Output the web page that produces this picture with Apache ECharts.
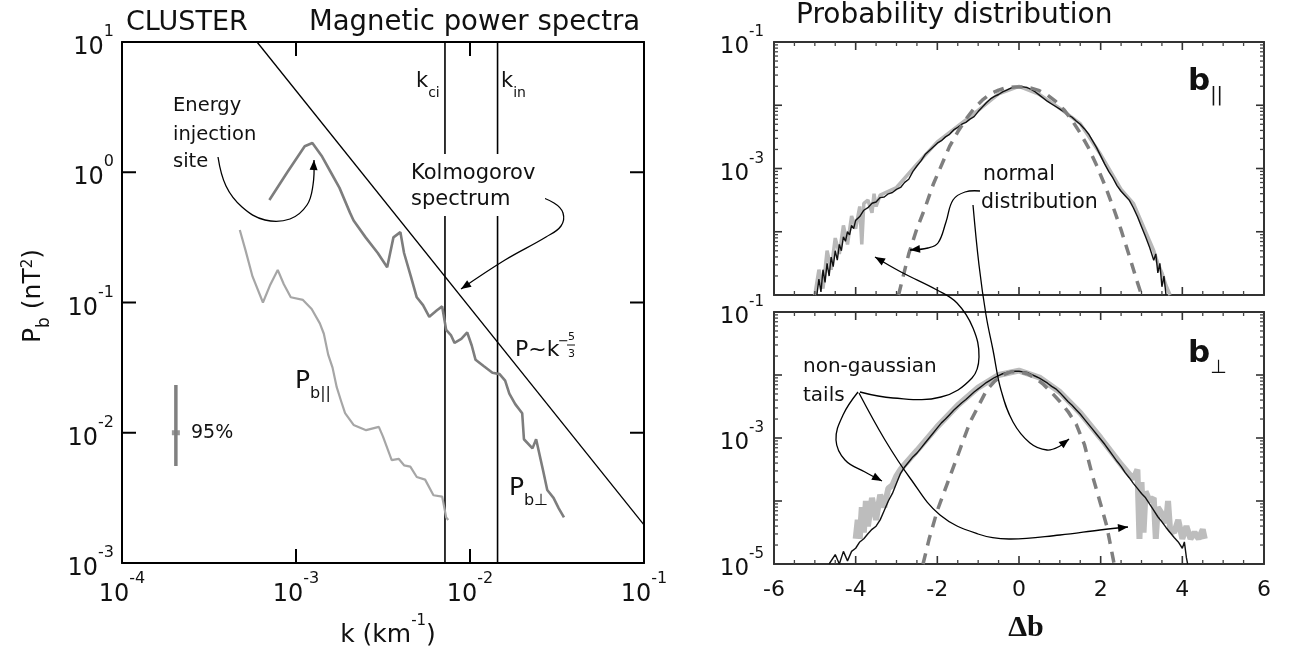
<!DOCTYPE html>
<html><head><meta charset="utf-8">
<script src="https://cdn.jsdelivr.net/npm/echarts/dist/echarts.min.js"></script>
<style>html,body{margin:0;padding:0;background:#fff}#c{width:1291px;height:656px}</style>
</head><body><div id="c"></div>
<script>
// ---------------- DATA ----------------
// Left panel: magnetic power spectra (log10 k, log10 P)
const perpLogK = [-3.153,-3.05,-2.95,-2.906,-2.85,-2.8,-2.75,-2.69,-2.669,-2.6,-2.53,-2.476,-2.44,-2.4,-2.379,-2.34,-2.306,-2.27,-2.234,-2.19,-2.16,-2.137,-2.11,-2.089,-2.05,-2.016,-1.99,-1.968,-1.92,-1.871,-1.83,-1.798,-1.774,-1.74,-1.7,-1.69,-1.641,-1.62,-1.58,-1.556,-1.52,-1.49,-1.46];
const perpLogP = [-0.213,0.0,0.2,0.225,0.12,0.0,-0.12,-0.31,-0.37,-0.5,-0.62,-0.73,-0.5,-0.46,-0.62,-0.8,-0.96,-1.02,-1.11,-1.06,-1.03,-1.21,-1.25,-1.31,-1.28,-1.23,-1.33,-1.44,-1.49,-1.54,-1.55,-1.6,-1.7,-1.78,-1.85,-2.05,-2.12,-2.05,-2.29,-2.44,-2.5,-2.58,-2.65];
const parLogK = [-3.323,-3.29,-3.25,-3.19,-3.15,-3.105,-3.07,-3.03,-2.96,-2.91,-2.863,-2.84,-2.815,-2.79,-2.766,-2.74,-2.718,-2.669,-2.597,-2.524,-2.5,-2.45,-2.41,-2.379,-2.343,-2.306,-2.258,-2.21,-2.16,-2.137,-2.125];
const parLogP = [-0.443,-0.6,-0.8,-1.0,-0.87,-0.75,-0.86,-0.96,-0.98,-1.05,-1.16,-1.24,-1.4,-1.5,-1.65,-1.76,-1.85,-1.94,-1.98,-1.955,-2.03,-2.21,-2.2,-2.25,-2.26,-2.34,-2.36,-2.48,-2.49,-2.65,-2.67];
const kolmoK = [5.97e-4, 0.1];
const kolmoP = [10, 1.96e-3];
const kLines = [0.00718, 0.0144];
const errK = 2.04e-4;
const errP = [0.0233, 0.01, 0.00556];
// Right panels: probability distributions (Δb, log10 PDF)
const topDb = [-4.95,-4.9,-4.85,-4.8,-4.75,-4.7,-4.65,-4.6,-4.55,-4.5,-4.45,-4.4,-4.35,-4.3,-4.25,-4.2,-4.15,-4.1,-4.05,-4.0,-3.9,-3.8,-3.7,-3.6,-3.5,-3.4,-3.3,-3.2,-3.1,-3.0,-2.9,-2.8,-2.7,-2.6,-2.5,-2.4,-2.3,-2.2,-2.1,-2.0,-1.9,-1.8,-1.7,-1.6,-1.5,-1.4,-1.3,-1.2,-1.1,-1.0,-0.9,-0.8,-0.7,-0.6,-0.5,-0.4,-0.3,-0.2,-0.1,0,0.1,0.2,0.3,0.4,0.5,0.6,0.7,0.8,0.9,1.0,1.1,1.2,1.3,1.4,1.5,1.6,1.7,1.8,1.9,2.0,2.1,2.2,2.3,2.4,2.5,2.6,2.7,2.8,2.9,3.0,3.1,3.2,3.3,3.35,3.4,3.45,3.5,3.55,3.6];
const topLog = [-5.0,-4.75,-4.95,-4.6,-4.8,-4.5,-4.7,-4.4,-4.55,-4.3,-4.45,-4.2,-4.3,-4.08,-4.15,-4.0,-4.05,-3.9,-3.95,-3.82,-3.76,-3.66,-3.62,-3.55,-3.53,-3.46,-3.45,-3.4,-3.38,-3.33,-3.3,-3.22,-3.17,-3.05,-2.96,-2.88,-2.78,-2.72,-2.66,-2.6,-2.56,-2.5,-2.46,-2.39,-2.35,-2.3,-2.27,-2.22,-2.18,-2.1,-2.03,-1.96,-1.9,-1.86,-1.83,-1.79,-1.76,-1.73,-1.71,-1.71,-1.71,-1.72,-1.75,-1.79,-1.84,-1.89,-1.94,-1.98,-2.02,-2.06,-2.1,-2.15,-2.19,-2.25,-2.3,-2.37,-2.45,-2.56,-2.67,-2.8,-2.93,-3.05,-3.15,-3.27,-3.36,-3.43,-3.5,-3.62,-3.76,-3.92,-4.08,-4.25,-4.45,-4.35,-4.65,-4.5,-4.87,-4.7,-5.0];
const topGrayDb = [-5.0,-4.9,-4.8,-4.7,-4.6,-4.5,-4.4,-4.3,-4.2,-4.1,-4.0,-3.9,-3.85,-3.8,-3.7,-3.6,-3.55,-3.5,-3.4,-3.0,-2.5,-2.0,-1.5,-1.0,-0.5,0,0.5,1.0,1.5,2.0,2.5,2.8,3.0,3.1,3.2,3.3,3.4,3.5,3.6,3.7];
const topGrayLog = [-5.0,-4.6,-4.9,-4.3,-4.6,-4.1,-4.35,-3.9,-4.2,-3.75,-3.95,-3.6,-4.2,-3.55,-3.5,-3.7,-3.4,-3.6,-3.42,-3.3,-2.93,-2.58,-2.33,-2.08,-1.82,-1.7,-1.83,-2.05,-2.29,-2.78,-3.33,-3.55,-3.85,-4.0,-4.15,-4.3,-4.5,-4.65,-4.85,-5.0];
const topGaussDb = [-2.95,-2.7,-2.5,-2.3,-2.1,-1.9,-1.7,-1.5,-1.3,-1.1,-0.9,-0.7,-0.5,-0.3,-0.1,0.1,0.3,0.5,0.7,0.9,1.1,1.3,1.5,1.7,1.9,2.1,2.3,2.5,2.7,2.9,3.0];
const topGaussLog = [-5.0,-4.35,-3.95,-3.62,-3.25,-2.95,-2.65,-2.42,-2.22,-2.05,-1.92,-1.82,-1.76,-1.72,-1.71,-1.71,-1.73,-1.77,-1.84,-1.94,-2.07,-2.24,-2.44,-2.67,-2.95,-3.26,-3.6,-3.97,-4.38,-4.8,-5.0];
const botDb = [-4.65,-4.5,-4.4,-4.3,-4.2,-4.1,-4.0,-3.9,-3.8,-3.7,-3.6,-3.5,-3.4,-3.3,-3.2,-3.1,-3.0,-2.9,-2.8,-2.7,-2.6,-2.5,-2.4,-2.3,-2.2,-2.1,-2.0,-1.9,-1.8,-1.7,-1.6,-1.5,-1.4,-1.3,-1.2,-1.1,-1.0,-0.9,-0.8,-0.7,-0.6,-0.5,-0.4,-0.3,-0.2,-0.1,0,0.1,0.2,0.3,0.4,0.5,0.6,0.7,0.8,0.9,1.0,1.1,1.2,1.3,1.4,1.5,1.6,1.7,1.8,1.9,2.0,2.1,2.2,2.3,2.4,2.5,2.6,2.7,2.8,2.9,3.0,3.1,3.2,3.3,3.4,3.5,3.6,3.7,3.8,3.9,4.0,4.05,4.1,4.13];
const botLog = [-5.0,-4.85,-5.0,-4.8,-4.95,-4.8,-4.75,-4.65,-4.6,-4.52,-4.45,-4.4,-4.3,-4.15,-4.0,-3.88,-3.72,-3.56,-3.46,-3.38,-3.3,-3.24,-3.16,-3.08,-3.0,-2.92,-2.84,-2.76,-2.7,-2.63,-2.56,-2.5,-2.44,-2.39,-2.33,-2.27,-2.22,-2.17,-2.12,-2.08,-2.04,-2.01,-1.98,-1.96,-1.95,-1.94,-1.94,-1.95,-1.96,-1.99,-2.02,-2.05,-2.09,-2.13,-2.18,-2.22,-2.28,-2.35,-2.42,-2.48,-2.55,-2.62,-2.7,-2.78,-2.86,-2.94,-3.02,-3.1,-3.19,-3.28,-3.37,-3.45,-3.55,-3.63,-3.72,-3.8,-3.88,-3.95,-4.05,-4.15,-4.25,-4.33,-4.42,-4.5,-4.58,-4.65,-4.75,-4.65,-4.9,-5.0];
const botGrayDb = [-4.0,-3.95,-3.9,-3.85,-3.8,-3.75,-3.7,-3.6,-3.5,-3.4,-3.3,-3.2,-3.1,-3.0,-2.9,-2.8,-2.5,-2.0,-1.5,-1.0,-0.5,0,0.5,1.0,1.5,2.0,2.5,2.8,2.9,2.95,3.0,3.05,3.1,3.2,3.3,3.35,3.4,3.5,3.6,3.65,3.7,3.8,3.9,4.0,4.1,4.2,4.3,4.4,4.5,4.55];
const botGrayLog = [-4.6,-4.3,-4.6,-4.1,-4.5,-4.0,-4.4,-3.95,-4.3,-3.9,-4.1,-3.8,-3.75,-3.6,-3.5,-3.42,-3.2,-2.82,-2.48,-2.2,-2.0,-1.93,-2.04,-2.27,-2.6,-3.0,-3.42,-3.65,-3.5,-4.6,-3.7,-4.5,-3.85,-4.0,-3.95,-4.6,-4.1,-4.2,-4.35,-4.0,-4.45,-4.5,-4.3,-4.6,-4.4,-4.6,-4.5,-4.6,-4.45,-4.6];
const botGaussDb = [-2.35,-2.2,-2.0,-1.8,-1.6,-1.4,-1.2,-1.0,-0.8,-0.6,-0.4,-0.2,0,0.2,0.4,0.6,0.8,1.0,1.2,1.4,1.6,1.8,2.0,2.15,2.3,2.33];
const botGaussLog = [-5.0,-4.6,-4.15,-3.8,-3.45,-3.1,-2.75,-2.5,-2.25,-2.1,-2.0,-1.95,-1.95,-1.98,-2.05,-2.15,-2.28,-2.42,-2.58,-2.78,-3.1,-3.6,-4.05,-4.4,-4.9,-5.0];
// tick values
const leftXTicks = [1e-3, 1e-2];
const leftYTicks = [1e-2, 1e-1, 1];
const rightXMajor = [-4, -2, 0, 2, 4];
const rightXMinor = [-5.5, -5, -4.5, -3.5, -3, -2.5, -1.5, -1, -0.5, 0.5, 1, 1.5, 2.5, 3, 3.5, 4.5, 5, 5.5];
const rightYMajor = [1e-4, 1e-3, 1e-2];
const rightYMinor = [2e-5,3e-5,4e-5,5e-5,6e-5,7e-5,8e-5,9e-5,2e-4,3e-4,4e-4,5e-4,6e-4,7e-4,8e-4,9e-4,2e-3,3e-3,4e-3,5e-3,6e-3,7e-3,8e-3,9e-3,2e-2,3e-2,4e-2,5e-2,6e-2,7e-2,8e-2,9e-2];

// ---------------- CHART ----------------
const F = 'DejaVu Sans';
const pow = v => Math.pow(10, v);
const pairs = (xs, ys, fx, fy) => xs.map((x, i) => [fx ? fx(x) : x, fy ? fy(ys[i]) : ys[i]]);
const expOf = v => Math.round(Math.log10(v));
const supFmt = v => '{b|10}{s|' + expOf(v) + '}';
const richL = {
  b: {fontSize: 24, fontFamily: F, color: '#111', lineHeight: 36, verticalAlign: 'bottom'},
  s: {fontSize: 16, fontFamily: F, color: '#111', lineHeight: 15, verticalAlign: 'top'}
};
const richR = {
  b: {fontSize: 23, fontFamily: F, color: '#111', lineHeight: 34, verticalAlign: 'bottom'},
  s: {fontSize: 15, fontFamily: F, color: '#111', lineHeight: 14, verticalAlign: 'top'}
};
const frameL = {show: true, onZero: false, lineStyle: {color: '#000', width: 2}};
const frameR = {show: true, onZero: false, lineStyle: {color: '#333', width: 2}};
const noTick = {show: false};

function rx(grid, pos, labels) {
  return {gridIndex: grid, type: 'value', min: -6, max: 6, interval: 2, position: pos,
    axisLine: frameR, axisTick: noTick, splitLine: {show: false},
    axisLabel: labels ? {show: true, fontSize: 22, fontFamily: F, color: '#111', margin: 15} : {show: false}};
}
function ry(grid, pos, fmt) {
  return {gridIndex: grid, type: 'log', logBase: 10, min: 1e-5, max: 1e-1, position: pos,
    axisLine: frameR, axisTick: noTick, splitLine: {show: false},
    axisLabel: fmt ? {show: true, formatter: fmt, rich: richR, margin: 10, showMinLabel: true, showMaxLabel: true} : {show: false}};
}

// ticks drawn inside the frame through the axes' own scales
function tickSeries(xi, yi, xEnds, yEnds, xTicks, yTicks, len, color, width) {
  const data = xTicks.map(v => [1, v]).concat(yTicks.map(v => [2, v]));
  return {type: 'custom', xAxisIndex: xi, yAxisIndex: yi, silent: true, z: 6, clip: false, animation: false,
    data: data,
    renderItem: (params, api) => {
      const kind = api.value(0), v = api.value(1);
      const st = {stroke: color, lineWidth: width};
      if (kind === 1) {
        const a = api.coord([v, yEnds[0]]), b = api.coord([v, yEnds[1]]);
        return {type: 'group', children: [
          {type: 'line', shape: {x1: a[0], y1: a[1], x2: a[0], y2: a[1] - len}, style: st},
          {type: 'line', shape: {x1: b[0], y1: b[1], x2: b[0], y2: b[1] + len}, style: st}]};
      }
      const a = api.coord([xEnds[0], v]), b = api.coord([xEnds[1], v]);
      return {type: 'group', children: [
        {type: 'line', shape: {x1: a[0], y1: a[1], x2: a[0] + len, y2: a[1]}, style: st},
        {type: 'line', shape: {x1: b[0], y1: b[1], x2: b[0] - len, y2: b[1]}, style: st}]};
    }};
}

const lineS = (xi, yi, data, color, width, extra) => Object.assign({
  type: 'line', xAxisIndex: xi, yAxisIndex: yi, data: data, showSymbol: false, symbol: 'none',
  silent: true, animation: false, lineStyle: {color: color, width: width}
}, extra || {});

// annotation arrows (pixel space)
function arrowHead(p, q, size, color) {
  const dx = p[0] - q[0], dy = p[1] - q[1];
  const L = Math.hypot(dx, dy) || 1;
  const ux = dx / L, uy = dy / L, nx = -uy, ny = ux;
  const bx = p[0] - ux * size, by = p[1] - uy * size;
  return {type: 'polygon', z: 20, shape: {points: [[p[0], p[1]], [bx + nx * size * 0.4, by + ny * size * 0.4], [bx - nx * size * 0.4, by - ny * size * 0.4]]},
    style: {fill: color || '#000'}};
}
function arrow(points, smooth) {
  const n = points.length;
  return [
    {type: 'polyline', z: 20, shape: {points: points, smooth: smooth === undefined ? 0.4 : smooth}, style: {stroke: '#000', lineWidth: 1.3, fill: null}},
    arrowHead(points[n - 1], points[n - 2], 10)
  ];
}
function txt(x, y, text, size) {
  return {type: 'text', x: x, y: y, z: 30,
    style: {text: text, fontSize: size, fontFamily: F, fill: '#111', verticalAlign: 'middle', align: 'left'}};
}
const subRich = (big, small, bigFont, bigWeight) => ({
  p: {fontSize: big, fontFamily: bigFont || F, fontWeight: bigWeight || 'normal', fill: '#111', lineHeight: big + 8, verticalAlign: 'top'},
  sb: {fontSize: small, fontFamily: F, fill: '#111', lineHeight: small + 3, verticalAlign: 'bottom'},
  sp: {fontSize: small - 2, fontFamily: F, fill: '#111', lineHeight: small, verticalAlign: 'top'}
});

const graphics = [
  txt(126, 23, 'CLUSTER', 27),
  txt(309, 23, 'Magnetic power spectra', 27.5),
  txt(796, 16, 'Probability distribution', 28),
  txt(173, 106, 'Energy', 19.5),
  txt(173, 135, 'injection', 19.5),
  txt(173, 162, 'site', 19.5),
  {type: 'rect', z: 25, shape: {x: 407, y: 154, width: 138, height: 62}, style: {fill: '#fff'}},
  txt(411, 174, 'Kolmogorov', 21),
  txt(411, 200, 'spectrum', 21),
  {type: 'text', x: 416, y: 86, z: 30, style: {rich: subRich(21, 14), text: '{p|k}{sb|ci}', verticalAlign: 'middle'}},
  {type: 'text', x: 501, y: 86, z: 30, style: {rich: subRich(21, 14), text: '{p|k}{sb|in}', verticalAlign: 'middle'}},
  txt(515, 350, 'P~k', 22),
  txt(558, 342, '\u2212', 13),
  txt(568, 337, '5', 11),
  txt(568, 354, '3', 11),
  {type: 'line', z: 30, shape: {x1: 567, y1: 345, x2: 575, y2: 345}, style: {stroke: '#111', lineWidth: 1}},
  {type: 'text', x: 295, y: 385, z: 30, style: {rich: subRich(25, 16), text: '{p|P}{sb|b||}', verticalAlign: 'middle'}},
  {type: 'text', x: 509, y: 492, z: 30, style: {rich: subRich(25, 16), text: '{p|P}{sb|b\u22A5}', verticalAlign: 'middle'}},
  txt(191, 433, '95%', 19),
  {type: 'text', x: 37, y: 296, z: 30, rotation: Math.PI / 2, style: {rich: subRich(25, 17), text: '{p|P}{sb|b}{p| (nT}{sp|2}{p|)}', align: 'center', verticalAlign: 'middle'}},
  {type: 'text', x: 388, y: 631, z: 30, style: {rich: {
      p: {fontSize: 25, fontFamily: F, fill: '#111', lineHeight: 34, verticalAlign: 'bottom'},
      sp: {fontSize: 15, fontFamily: F, fill: '#111', lineHeight: 16, verticalAlign: 'top'}},
    text: '{p|k (km}{sp|-1}{p|)}', align: 'center', verticalAlign: 'middle'}},
  {type: 'text', x: 1188, y: 86, z: 30, style: {rich: subRich(31, 19, F, 'bold'), text: '{p|b}{sb|||}', verticalAlign: 'middle'}},
  {type: 'text', x: 1188, y: 358, z: 30, style: {rich: subRich(31, 19, F, 'bold'), text: '{p|b}{sb|\u22A5}', verticalAlign: 'middle'}},
  txt(983, 175, 'normal', 20.5),
  txt(981, 203, 'distribution', 20.5),
  txt(803, 367, 'non-gaussian', 20),
  txt(803, 396, 'tails', 20),
  {type: 'text', x: 1026, y: 628, z: 30, style: {text: '\u0394b', fontSize: 30, fontFamily: 'Liberation Serif', fontWeight: 'bold', fill: '#111', align: 'center', verticalAlign: 'middle'}}
];
const arrows = [].concat(
  arrow([[218, 157], [226, 186], [242, 207], [265, 220], [290, 219], [307, 205], [313, 185], [314, 160]]),
  arrow([[530, 193], [554, 203], [563, 213], [561, 226], [546, 237], [505, 260], [461, 289]]),
  arrow([[980, 191], [965, 192], [953, 200], [946, 222], [938, 243], [928, 248], [910, 250]]),
  arrow([[973, 205], [979, 265], [986, 315], [993, 350], [1001, 390], [1013, 422], [1030, 443], [1047, 450], [1060, 446], [1069, 439]]),
  arrow([[860, 392], [893, 398], [941, 397], [972, 378], [979, 357], [973, 328], [957, 303], [937, 290], [901, 272], [875, 257]]),
  arrow([[858, 392], [843, 415], [836, 440], [845, 460], [865, 472], [882, 481]]),
  arrow([[859, 393], [885, 440], [910, 478], [940, 515], [978, 534], [1009, 539], [1060, 535], [1100, 530], [1128, 527]])
);

const option = {
  animation: false,
  backgroundColor: '#fff',
  grid: [
    {left: 122, top: 42, width: 522, height: 521, outerBoundsMode: 'none', containLabel: false},
    {left: 774, top: 42, width: 490, height: 253, outerBoundsMode: 'none', containLabel: false},
    {left: 774, top: 312, width: 490, height: 252, outerBoundsMode: 'none', containLabel: false}
  ],
  xAxis: [
    {gridIndex: 0, type: 'log', logBase: 10, min: 1e-4, max: 1e-1, position: 'bottom', axisLine: frameL, axisTick: noTick, splitLine: {show: false},
      axisLabel: {formatter: supFmt, rich: richL, margin: 8, showMinLabel: true, showMaxLabel: true}},
    {gridIndex: 0, type: 'log', logBase: 10, min: 1e-4, max: 1e-1, position: 'top', axisLine: frameL, axisTick: noTick, splitLine: {show: false}, axisLabel: {show: false}},
    rx(1, 'bottom', false), rx(1, 'top', false),
    rx(2, 'bottom', true), rx(2, 'top', false)
  ],
  yAxis: [
    {gridIndex: 0, type: 'log', logBase: 10, min: 1e-3, max: 10, position: 'left', axisLine: frameL, axisTick: noTick, splitLine: {show: false},
      axisLabel: {formatter: supFmt, rich: richL, margin: 8, showMinLabel: true, showMaxLabel: true}},
    {gridIndex: 0, type: 'log', logBase: 10, min: 1e-3, max: 10, position: 'right', axisLine: frameL, axisTick: noTick, splitLine: {show: false}, axisLabel: {show: false}},
    ry(1, 'left', v => { const e = expOf(v); return (e === -1 || e === -3) ? supFmt(v) : ''; }), ry(1, 'right', null),
    ry(2, 'left', v => { const e = expOf(v); return (Math.abs(e) % 2 === 1) ? supFmt(v) : ''; }), ry(2, 'right', null)
  ],
  series: [
    lineS(0, 0, pairs(kolmoK, kolmoP), '#000', 1.3),
    lineS(0, 0, [[kLines[0], 1e-3], [kLines[0], 10]], '#000', 1.6),
    lineS(0, 0, [[kLines[1], 1e-3], [kLines[1], 10]], '#000', 1.6),
    lineS(0, 0, pairs(parLogK, parLogP, pow, pow), '#a6a6a6', 2.2),
    lineS(0, 0, pairs(perpLogK, perpLogP, pow, pow), '#7d7d7d', 2.6),
    lineS(0, 0, [[errK, errP[0]], [errK, errP[2]]], '#808080', 3.5),
    {type: 'scatter', xAxisIndex: 0, yAxisIndex: 0, data: [[errK, errP[1]]], symbol: 'rect', symbolSize: [8, 5], itemStyle: {color: '#808080'}, silent: true},
    lineS(2, 2, pairs(topGrayDb, topGrayLog, null, pow), '#b8b8b8', 3.5),
    lineS(2, 2, pairs(topDb, topLog, null, pow), '#111', 1.4),
    lineS(2, 2, pairs(topGaussDb, topGaussLog, null, pow), '#7f7f7f', 3.5, {lineStyle: {color: '#7f7f7f', width: 3.5, type: [11, 8]}, z: 3}),
    lineS(4, 4, pairs(botGrayDb, botGrayLog, null, pow), '#bdbdbd', 6),
    lineS(4, 4, pairs(botDb, botLog, null, pow), '#111', 1.4),
    lineS(4, 4, pairs(botGaussDb, botGaussLog, null, pow), '#7f7f7f', 3.5, {lineStyle: {color: '#7f7f7f', width: 3.5, type: [11, 8]}, z: 3}),
    tickSeries(0, 0, [1e-4, 1e-1], [1e-3, 10], leftXTicks, leftYTicks, 14, '#000', 2),
    tickSeries(2, 2, [-6, 6], [1e-5, 1e-1], rightXMajor, rightYMajor, 8, '#333', 1.6),
    tickSeries(2, 2, [-6, 6], [1e-5, 1e-1], rightXMinor, rightYMinor, 4, '#444', 1.3),
    tickSeries(4, 4, [-6, 6], [1e-5, 1e-1], rightXMajor, rightYMajor, 8, '#333', 1.6),
    tickSeries(4, 4, [-6, 6], [1e-5, 1e-1], rightXMinor, rightYMinor, 4, '#444', 1.3)
  ],
  graphic: graphics.concat(arrows)
};
const chart = echarts.init(document.getElementById('c'));
chart.setOption(option);
</script>
</body></html>
